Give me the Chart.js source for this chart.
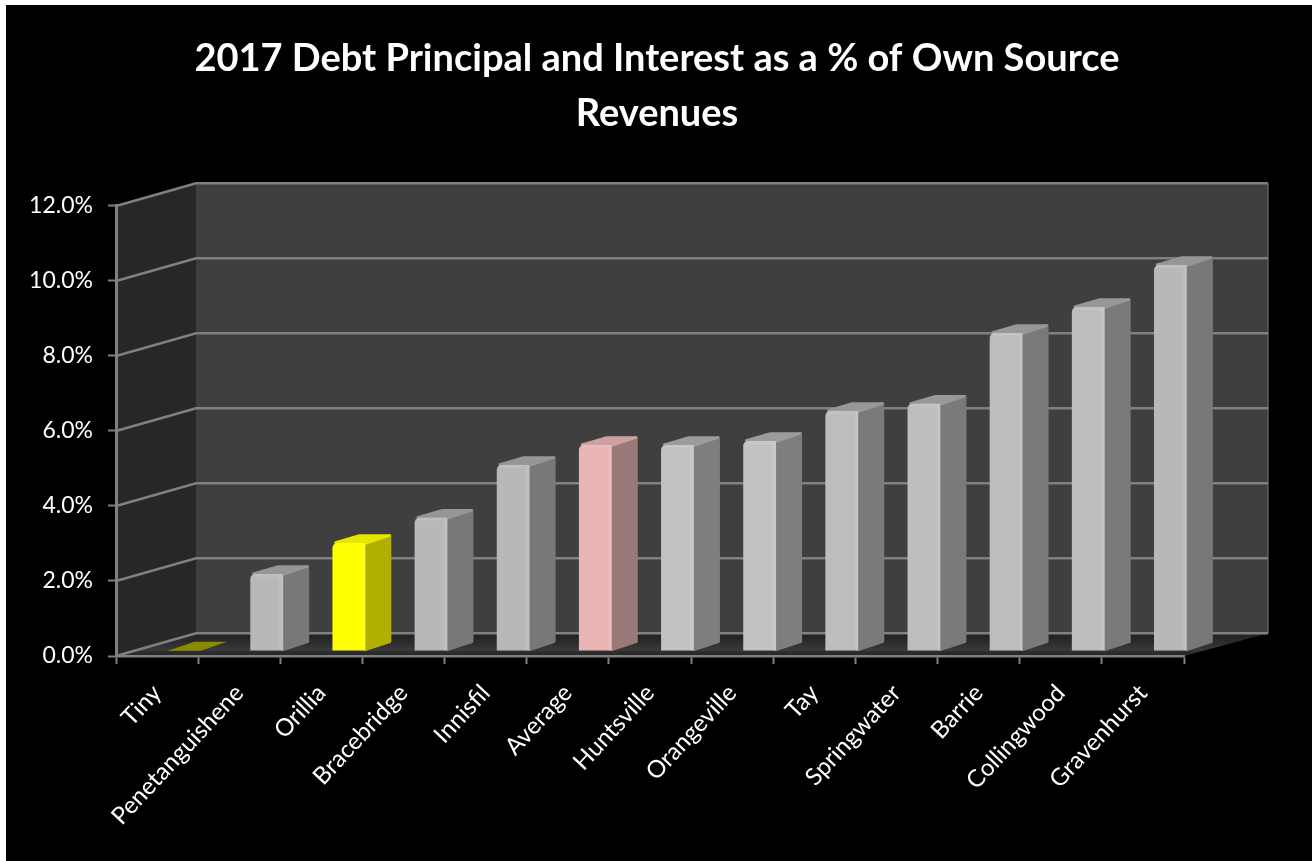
<!DOCTYPE html>
<html lang="en">
<head>
<meta charset="UTF-8" />
<title>Debt Principal and Interest</title>
<script src="https://cdn.jsdelivr.net/npm/chart.js"></script>
<style>
  html, body { margin: 0; padding: 0; background: #000; }
  #wrap { width: 1312px; height: 861px; }
</style>
</head>
<body>
<div id="wrap"><canvas id="debtChart" width="1312" height="861"></canvas></div>

<script>
  const titleLines = ['2017 Debt Principal and Interest as a % of Own Source', 'Revenues'];
  const municipalities = ['Tiny', 'Penetanguishene', 'Orillia', 'Bracebridge', 'Innisfil', 'Average',
    'Huntsville', 'Orangeville', 'Tay', 'Springwater', 'Barrie', 'Collingwood', 'Gravenhurst'];
  const debtPercent = [0.01, 2.05, 2.88, 3.55, 4.96, 5.49, 5.49, 5.6, 6.4, 6.59, 8.48, 9.17, 10.29];
  const frontColors = ['#8a8a00', '#b8b8b8', '#ffff00', '#b8b8b8', '#b8b8b8', '#e8b4b4', '#c2c2c2',
    '#c2c2c2', '#bdbdbd', '#bdbdbd', '#bdbdbd', '#bdbdbd', '#b8b8b8'];
  const sideColors = ['#8a8a00', '#787878', '#b0b000', '#787878', '#787878', '#9a7a78', '#7e7e7e',
    '#7e7e7e', '#7a7a7a', '#7a7a7a', '#7a7a7a', '#7a7a7a', '#787878'];
  const topColors = ['#8a8a00', '#969696', '#e6e600', '#969696', '#969696', '#cfa0a0', '#9c9c9c',
    '#9c9c9c', '#989898', '#989898', '#989898', '#989898', '#969696'];

  const lineGray = '#808080';

  // depth of the box behind the front axes
  const wallDx = 80, wallDy = -22.7, wallRight = 1268;
  // bars stand part way into the box, and have a small depth of their own
  const barDx = 27.5, barDy = -5, sideDx = 26, sideDy = -9;

  function poly(ctx, pts, fill, round) {
    ctx.beginPath();
    pts.forEach((p, i) => i ? ctx.lineTo(p[0], p[1]) : ctx.moveTo(p[0], p[1]));
    ctx.closePath();
    ctx.fillStyle = fill;
    ctx.fill();
    if (round) {
      ctx.strokeStyle = fill;
      ctx.lineJoin = 'round';
      ctx.lineWidth = round;
      ctx.stroke();
    }
  }

  // back wall, left wall, floor and the gridlines running round them
  const boxPlugin = {
    id: 'box',
    beforeDraw(chart) {
      const { ctx, chartArea: a, scales: { y } } = chart;
      const bx = a.left + wallDx;
      ctx.save();
      // paper showing along the top and left edges
      ctx.fillStyle = '#ffffff';
      ctx.fillRect(0, 0, chart.width, 5);
      ctx.fillRect(0, 0, 6, chart.height);

      poly(ctx, [[bx, a.top + wallDy], [wallRight, a.top + wallDy], [wallRight, a.bottom + wallDy], [bx, a.bottom + wallDy]], '#3f3f3f');
      poly(ctx, [[a.left, a.top], [bx, a.top + wallDy], [bx, a.bottom + wallDy], [a.left, a.bottom]], '#272727');
      const floor = ctx.createLinearGradient(0, a.bottom + wallDy, 0, a.bottom);
      floor.addColorStop(0, '#202020');
      floor.addColorStop(0.45, '#2e2e2e');
      floor.addColorStop(0.72, '#3a3a3a');
      floor.addColorStop(0.86, '#2a2a2a');
      floor.addColorStop(1, '#2a2a2a');
      poly(ctx, [[a.left, a.bottom], [bx, a.bottom + wallDy], [wallRight, a.bottom + wallDy], [a.right, a.bottom]], floor);

      // faint right edge of the back wall
      ctx.strokeStyle = '#5e5e5e';
      ctx.lineWidth = 1.5;
      ctx.beginPath();
      ctx.moveTo(wallRight, a.top + wallDy);
      ctx.lineTo(wallRight, a.bottom + wallDy);
      ctx.stroke();

      ctx.strokeStyle = lineGray;
      ctx.lineWidth = 2.5;
      y.ticks.forEach(t => {
        const py = y.getPixelForValue(t.value);
        ctx.beginPath();
        ctx.moveTo(a.left, py);
        ctx.lineTo(bx, py + wallDy);
        ctx.lineTo(wallRight, py + wallDy);
        ctx.stroke();
      });
      ctx.restore();
    }
  };

  // side and top faces go down first, the library then draws the front faces over them
  const barDepthPlugin = {
    id: 'barDepth',
    beforeDatasetsDraw(chart) {
      const { ctx } = chart;
      const bars = chart.getDatasetMeta(0).data;
      ctx.save();
      ctx.translate(barDx, barDy);
      bars.forEach((bar, i) => {
        const l = bar.x - bar.width / 2, r = bar.x + bar.width / 2;
        if (i === 0) {
          poly(ctx, [[l, bar.y], [l + sideDx, bar.y + sideDy], [r + sideDx, bar.y + sideDy], [r, bar.y]], topColors[i]);
          return;
        }
        poly(ctx, [[r, bar.y + 1], [r + sideDx - 1.5, bar.y + sideDy + 1.5], [r + sideDx - 1.5, bar.base + sideDy], [r, bar.base - 1]], sideColors[i], 3);
        poly(ctx, [[l + 3, bar.y - 0.5], [l + sideDx + 1, bar.y + sideDy + 1.5], [r + sideDx - 2, bar.y + sideDy + 1.5], [r, bar.y + 0.5]], topColors[i], 2.5);
      });
      ctx.restore();
      ctx.save();
      ctx.translate(barDx, barDy);
    },
    afterDatasetsDraw(chart) {
      const { ctx } = chart;
      ctx.restore();
      // soft highlight along the bevelled front edges
      const bars = chart.getDatasetMeta(0).data;
      ctx.save();
      ctx.translate(barDx, barDy);
      bars.forEach((bar, i) => {
        if (i === 0) return;
        const l = bar.x - bar.width / 2, r = bar.x + bar.width / 2;
        const edge = ctx.createLinearGradient(r - 5, 0, r, 0);
        edge.addColorStop(0, 'rgba(255,255,255,0)');
        edge.addColorStop(0.7, 'rgba(255,255,255,0.14)');
        edge.addColorStop(1, 'rgba(255,255,255,0.04)');
        ctx.fillStyle = edge;
        ctx.fillRect(r - 5, bar.y + 2, 5, bar.base - bar.y - 2);
        // top bevel fades into the front face
        const cap = ctx.createLinearGradient(0, bar.y, 0, bar.y + 4);
        cap.addColorStop(0, 'rgba(255,255,255,0.14)');
        cap.addColorStop(1, 'rgba(255,255,255,0)');
        ctx.fillStyle = cap;
        ctx.fillRect(l + 2, bar.y, r - l - 2, 4);
      });
      ctx.restore();
    }
  };

  new Chart(document.getElementById('debtChart').getContext('2d'), {
    type: 'bar',
    data: {
      labels: municipalities,
      datasets: [{
        data: debtPercent,
        backgroundColor: frontColors,
        borderWidth: 0,
        borderRadius: { topLeft: 5, topRight: 1, bottomLeft: 0, bottomRight: 0 },
        borderSkipped: false,
        barPercentage: 0.4,
        categoryPercentage: 1,
        clip: false
      }]
    },
    options: {
      responsive: false,
      animation: false,
      layout: { padding: { left: 2, right: 0, top: 0, bottom: 0 } },
      plugins: {
        legend: { display: false },
        tooltip: { enabled: false },
        title: {
          display: true,
          text: titleLines,
          color: '#ffffff',
          font: { family: 'Lato', size: 38, weight: 'bold', lineHeight: 1.447 },
          padding: { top: 31.5, bottom: 64.5 }
        }
      },
      scales: {
        x: {
          afterFit: s => { s.height = 205; },
          border: { display: true, color: lineGray, width: 2.5 },
          grid: { drawOnChartArea: false, drawTicks: true, tickLength: 8, tickColor: lineGray, tickWidth: 2 },
          ticks: {
            color: '#ffffff',
            font: { family: 'Lato', size: 24 },
            autoSkip: false,
            minRotation: 47,
            maxRotation: 47,
            padding: 15
          }
        },
        y: {
          min: 0,
          max: 12,
          afterFit: s => { s.width = 114; },
          border: { display: true, color: lineGray, width: 3 },
          grid: { drawOnChartArea: false, drawTicks: true, tickLength: 8, tickColor: lineGray, tickWidth: 2 },
          ticks: {
            stepSize: 2,
            color: '#ffffff',
            font: { family: 'Lato', size: 23 },
            padding: 15,
            callback: v => v.toFixed(1) + '%'
          }
        },
        // empty axis that holds the plot in from the right edge
        yRight: {
          position: 'right',
          display: true,
          afterFit: s => { s.width = 128; },
          border: { display: false },
          grid: { display: false },
          ticks: { display: false }
        }
      }
    },
    plugins: [boxPlugin, barDepthPlugin]
  });
</script>
</body>
</html>
